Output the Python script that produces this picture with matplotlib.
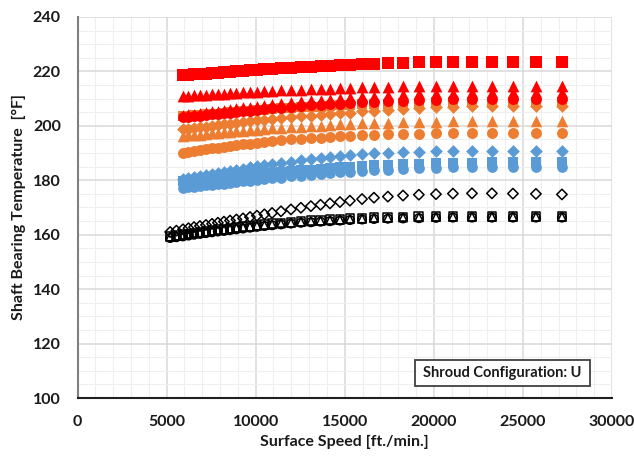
import matplotlib
matplotlib.use("Agg")
import matplotlib.pyplot as plt
from matplotlib.patches import Rectangle
from matplotlib.ticker import MultipleLocator

plt.rcParams['font.family'] = ['Lato', 'DejaVu Sans']

# Surface speeds [ft./min.]
speed = [5920, 6230, 6540, 6870, 7210, 7550, 7880, 8220, 8560, 8920, 9290, 9680,
         10070, 10490, 10920, 11420, 11980, 12540, 13100, 13640, 14170, 14730,
         15290, 15970, 16640, 17420, 18270, 19160, 20120, 21070, 22140, 23260,
         24440, 25730, 27190]
speed_black = [5200, 5550] + speed

# Red series
red_sq = [218.6, 218.7, 218.9, 219.0, 219.2, 219.4, 219.5, 219.7, 219.9, 220.1, 220.3, 220.4,
          220.6, 220.8, 221.0, 221.2, 221.4, 221.6, 221.8, 222.0, 222.1, 222.3, 222.5, 222.7,
          222.8, 223.0, 223.1, 223.3, 223.4, 223.5, 223.5, 223.5, 223.4, 223.4, 223.3]
red_tri = [211.0, 211.1, 211.2, 211.3, 211.5, 211.6, 211.7, 211.8, 212.0, 212.1, 212.3, 212.4,
           212.6, 212.7, 212.9, 213.0, 213.2, 213.3, 213.5, 213.6, 213.7, 213.9, 214.0, 214.2,
           214.3, 214.4, 214.5, 214.6, 214.7, 214.8, 214.8, 214.8, 214.8, 214.8, 214.8]
red_tri2 = [204.0, 204.2, 204.4, 204.7, 205.0, 205.3, 205.5, 205.8, 206.2, 206.5, 206.8, 207.1,
            207.4, 207.7, 208.1, 208.4, 208.7, 209.1, 209.4, 209.6, 209.9, 210.2, 210.6, 210.9,
            211.1, 211.4, 211.6, 211.9, 212.1, 212.2, 212.3, 212.3, 212.3, 212.3, 212.3]
red_cir = [203.2, 203.3, 203.5, 203.7, 204.0, 204.2, 204.4, 204.7, 204.9, 205.2, 205.4, 205.6,
           205.9, 206.2, 206.4, 206.7, 207.0, 207.2, 207.5, 207.7, 207.9, 208.2, 208.4, 208.7,
           208.9, 209.1, 209.3, 209.5, 209.6, 209.7, 209.8, 209.8, 209.8, 209.8, 209.8]

# Orange series
org_sq = [203.6, 203.7, 203.9, 204.0, 204.2, 204.4, 204.5, 204.7, 205.0, 205.2, 205.4, 205.5,
          205.7, 205.9, 206.2, 206.4, 206.6, 206.8, 207.0, 207.1, 207.3, 207.5, 207.7, 207.9,
          208.1, 208.2, 208.4, 208.5, 208.6, 208.8, 208.8, 208.8, 208.8, 208.8, 208.8]
org_dia = [198.8, 199.0, 199.2, 199.4, 199.7, 200.0, 200.2, 200.5, 200.8, 201.1, 201.4, 201.7,
           202.0, 202.3, 202.6, 202.9, 203.2, 203.5, 203.8, 204.0, 204.3, 204.6, 204.9, 205.3,
           205.6, 205.9, 206.2, 206.5, 206.8, 207.0, 207.2, 207.3, 207.3, 207.3, 207.3]
org_tri = [196.4, 196.5, 196.7, 196.8, 197.1, 197.2, 197.4, 197.6, 197.8, 198.0, 198.2, 198.4,
           198.6, 198.8, 199.1, 199.3, 199.5, 199.7, 199.9, 200.1, 200.2, 200.5, 200.7, 200.9,
           201.0, 201.2, 201.4, 201.5, 201.6, 201.8, 201.8, 201.8, 201.8, 201.8, 201.8]
org_cir = [190.2, 190.5, 190.8, 191.1, 191.4, 191.7, 192.0, 192.3, 192.6, 192.9, 193.2, 193.5,
           193.8, 194.1, 194.4, 194.7, 195.0, 195.3, 195.5, 195.7, 195.9, 196.1, 196.3, 196.5,
           196.7, 196.9, 197.0, 197.1, 197.2, 197.3, 197.4, 197.5, 197.5, 197.5, 197.5]

# Blue series
blu_dia = [180.3, 180.7, 181.1, 181.5, 181.9, 182.3, 182.7, 183.1, 183.5, 183.9, 184.3, 184.7,
           185.1, 185.5, 185.9, 186.3, 186.8, 187.3, 187.7, 188.1, 188.5, 188.9, 189.3, 189.7,
           189.9, 190.1, 190.3, 190.5, 190.6, 190.7, 190.8, 190.8, 190.8, 190.8, 190.8]
blu_sq = [179.6, 179.8, 180.0, 180.2, 180.4, 180.6, 180.8, 181.0, 181.2, 181.4, 181.7, 181.9,
          182.1, 182.4, 182.7, 183.0, 183.3, 183.6, 183.9, 184.2, 184.4, 184.7, 185.0, 185.3,
          185.5, 185.7, 185.9, 186.1, 186.3, 186.4, 186.5, 186.6, 186.6, 186.6, 186.6]
blu_cir = [177.3, 177.5, 177.7, 177.9, 178.1, 178.3, 178.6, 178.8, 179.0, 179.3, 179.6, 179.8,
           180.1, 180.4, 180.7, 181.0, 181.4, 181.7, 182.0, 182.3, 182.6, 182.9, 183.2, 183.5,
           183.7, 183.9, 184.2, 184.4, 184.6, 184.7, 184.8, 184.9, 185.0, 185.0, 185.0]

# Black (open) series
blk_dia = [161.0, 161.5, 162.0, 162.4, 162.8, 163.2, 163.6, 164.0, 164.4, 164.8, 165.2, 165.6,
           166.0, 166.5, 167.0, 167.5, 168.0, 168.6, 169.3, 169.9, 170.5, 171.0, 171.5, 172.0,
           172.5, 173.1, 173.6, 174.0, 174.4, 174.7, 174.9, 175.1, 175.2, 175.2, 175.1, 175.0,
           174.8]
blk_sq = [159.4, 159.7, 160.0, 160.3, 160.6, 160.9, 161.2, 161.5, 161.8, 162.0, 162.3, 162.6,
          162.9, 163.1, 163.4, 163.7, 164.0, 164.3, 164.6, 164.9, 165.1, 165.3, 165.5, 165.7,
          165.9, 166.1, 166.3, 166.4, 166.5, 166.6, 166.7, 166.8, 166.8, 166.8, 166.8, 166.8,
          166.8]
blk_tri = [159.3, 159.6, 159.9, 160.2, 160.5, 160.8, 161.1, 161.4, 161.6, 161.9, 162.2, 162.5,
           162.7, 163.0, 163.3, 163.5, 163.8, 164.1, 164.4, 164.7, 164.9, 165.1, 165.3, 165.5,
           165.7, 165.9, 166.1, 166.2, 166.3, 166.4, 166.5, 166.6, 166.6, 166.6, 166.6, 166.6,
           166.6]
blk_cir = [158.8, 159.1, 159.4, 159.7, 160.0, 160.3, 160.6, 160.9, 161.2, 161.4, 161.7, 162.0,
           162.3, 162.6, 162.9, 163.2, 163.5, 163.8, 164.1, 164.4, 164.6, 164.8, 165.0, 165.2,
           165.4, 165.6, 165.8, 165.9, 166.0, 166.1, 166.2, 166.3, 166.3, 166.3, 166.3, 166.3,
           166.3]

RED = '#FF0000'
ORANGE = '#ED7D31'
BLUE = '#5B9BD5'

fig = plt.figure(figsize=(6.34, 4.63), dpi=100)
ax = fig.add_axes([77.5 / 634, 1 - 398 / 463, 534.5 / 634, 381 / 463])

filled = [
    (blu_cir, BLUE, 'o', 60),
    (blu_sq, BLUE, 's', 62),
    (blu_dia, BLUE, 'D', 42),
    (org_cir, ORANGE, 'o', 62),
    (org_tri, ORANGE, '^', 70),
    (org_dia, ORANGE, 'D', 42),
    (org_sq, ORANGE, 's', 62),
    (red_cir, RED, 'o', 62),
    (red_tri2, RED, '^', 60),
    (red_tri, RED, '^', 72),
    (red_sq, RED, 's', 68),
]
for ys, c, m, s in filled:
    ax.scatter(speed, ys, s=s, marker=m, color=c, linewidths=0, zorder=3)

opened = [
    (blk_dia, 'D', 28),
    (blk_sq, 's', 40),
    (blk_tri, '^', 36),
    (blk_cir, 'o', 38),
]
for ys, m, s in opened:
    ax.scatter(speed_black, ys, s=s, marker=m, facecolors='none', edgecolors='black',
               linewidths=1.1, zorder=4)

ax.set_xlim(0, 30000)
ax.set_ylim(100, 240)
ax.xaxis.set_major_locator(MultipleLocator(5000))
ax.xaxis.set_minor_locator(MultipleLocator(1000))
ax.yaxis.set_major_locator(MultipleLocator(20))
ax.yaxis.set_minor_locator(MultipleLocator(5))
ax.grid(which='major', color='#D9D9D9', linewidth=1.1, zorder=0)
ax.grid(which='minor', color='#EFEFEF', linewidth=0.8, zorder=0)
ax.set_axisbelow(True)

for side in ('top', 'right'):
    ax.spines[side].set_visible(False)
ax.spines['left'].set_color('#7F7F7F')
ax.spines['left'].set_linewidth(1.5)
ax.spines['bottom'].set_color('#202020')
ax.spines['bottom'].set_linewidth(1.5)

ax.tick_params(which='both', length=0)
ax.tick_params(axis='x', pad=12, labelsize=11.5)
ax.tick_params(axis='y', pad=12, labelsize=11.5)
for lab in ax.get_xticklabels() + ax.get_yticklabels():
    lab.set_fontweight('bold')
    lab.set_color('#1A1A1A')

ax.set_xlabel('Surface Speed [ft./min.]', fontsize=11.5, fontweight='bold', color='#1A1A1A')
ax.set_ylabel('Shaft Bearing Temperature  [°F]', fontsize=11.5, fontweight='bold', color='#1A1A1A')
ax.xaxis.set_label_coords(0.5, -(435 - 398) / 381, transform=ax.transAxes)
ax.yaxis.set_label_coords(-(77.5 - 26) / 534.5, 0.5, transform=ax.transAxes)

rect = Rectangle(((415 - 77.5) / 534.5, (398 - 386) / 381), 175 / 534.5, 26 / 381,
                 transform=ax.transAxes, facecolor='white', edgecolor='#404040',
                 linewidth=1.3, zorder=6)
ax.add_patch(rect)
ax.text((502 - 77.5) / 534.5, (398 - 373) / 381, 'Shroud Configuration: U',
        transform=ax.transAxes, ha='center', va='center', fontsize=10.5,
        fontweight='bold', color='#1A1A1A', zorder=7)

fig.savefig('out.png', dpi=100)
